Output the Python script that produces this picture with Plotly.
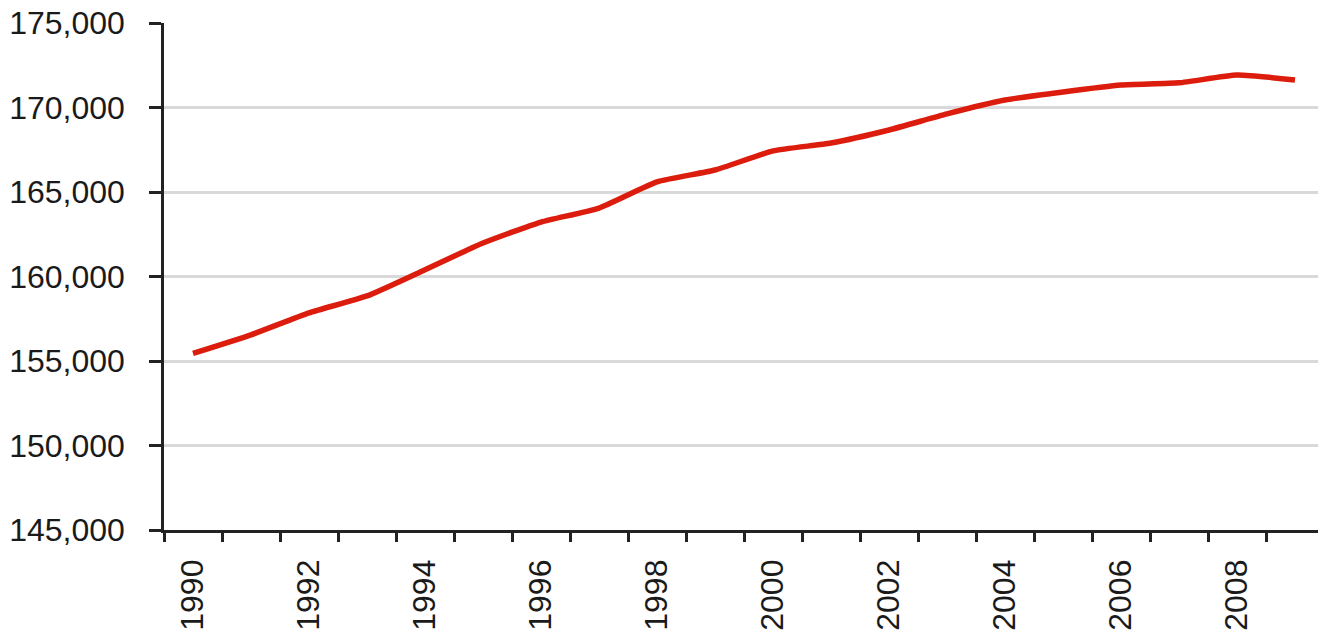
import plotly.graph_objects as go

# Annual totals, 1990-2009
years = [1990, 1991, 1992, 1993, 1994, 1995, 1996, 1997, 1998, 1999,
         2000, 2001, 2002, 2003, 2004, 2005, 2006, 2007, 2008, 2009]
values = [155450, 156550, 157850, 158850, 160400, 161980, 163220, 164050, 165600, 166300,
          167430, 167900, 168670, 169620, 170440, 170920, 171330, 171460, 171920, 171630]

label_years = [1990, 1992, 1994, 1996, 1998, 2000, 2002, 2004, 2006, 2008]
y_ticks = [145000, 150000, 155000, 160000, 165000, 170000, 175000]
y_labels = ["145,000", "150,000", "155,000", "160,000", "165,000", "170,000", "175,000"]

W, H = 1318, 631
left, top, bottom = 164, 23, 101
band_px = 58.0
x_max = 1989.5 + (W - left) / band_px

fig = go.Figure()
fig.add_trace(go.Scatter(
    x=years, y=values, mode="lines",
    line=dict(color="#dc1c0c", width=5.5, shape="spline", smoothing=0.5),
    hoverinfo="x+y", showlegend=False,
))

font = dict(family="Liberation Sans, Arial, sans-serif", size=32, color="#1a1a1a")

fig.update_layout(
    width=W, height=H,
    margin=dict(l=left, r=0, t=top, b=bottom, pad=0),
    paper_bgcolor="white", plot_bgcolor="white",
    font=font,
    xaxis=dict(
        range=[1989.5, x_max],
        tickmode="array", tickvals=label_years, ticktext=[str(y) for y in label_years],
        tickangle=-90, ticks="", ticklen=0,
        ticklabelstandoff=14,
        showgrid=False, zeroline=False,
        showline=True, linecolor="#222222", linewidth=2.5,
        minor=dict(tick0=1989.5, dtick=1, ticks="outside", ticklen=9,
                   tickwidth=2.5, tickcolor="#222222", showgrid=False),
        tickfont=font,
    ),
    yaxis=dict(
        range=[145000, 175000],
        tickmode="array", tickvals=y_ticks, ticktext=y_labels,
        ticks="outside", ticklen=12, tickwidth=2.5, tickcolor="#222222",
        ticklabelstandoff=18,
        showgrid=True, gridcolor="#d9d9d9", gridwidth=3,
        zeroline=False,
        showline=True, linecolor="#222222", linewidth=2.5,
        tickfont=font,
    ),
)

fig.write_html("out.html")
